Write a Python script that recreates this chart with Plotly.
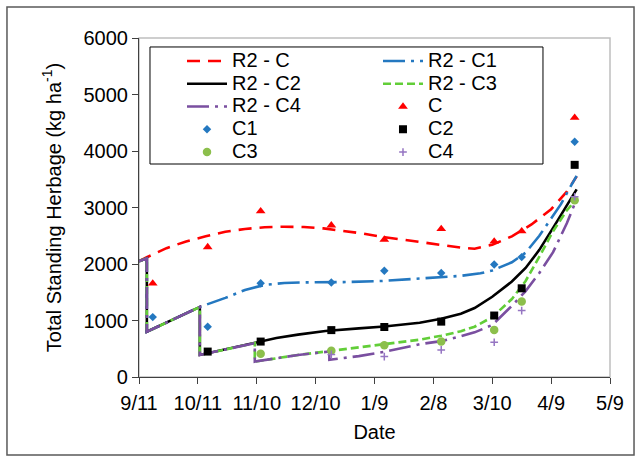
import plotly.graph_objects as go

# ---------------- data ----------------
TICK_DATES = ["2012-09-11", "2012-10-11", "2012-11-10", "2012-12-10", "2013-01-09",
              "2013-02-08", "2013-03-10", "2013-04-09", "2013-05-09"]
TICK_LABELS = ["9/11", "10/11", "11/10", "12/10", "1/9", "2/8", "3/10", "4/9", "5/9"]
Y_TICKS = [0, 1000, 2000, 3000, 4000, 5000, 6000]

# observed standing herbage (kg/ha)
SAMPLE_DATES = ["2012-09-18", "2012-10-16", "2012-11-12", "2012-12-18", "2013-01-14",
                "2013-02-12", "2013-03-11", "2013-03-25", "2013-04-21"]
C = [1655, 2300, 2935, 2685, 2432, 2620, 2400, 2580, 4590]
C1 = [1060, 890, 1660, 1672, 1882, 1840, 1990, 2122, 4165]
C2 = [None, 450, 627, 830, 885, 980, 1088, 1570, 3755]
C3 = [None, None, 410, 465, 562, 627, 834, 1337, 3130]
C4 = [None, None, None, 400, 361, 479, 615, 1175, 3190]

# regrowth model curves (R2)
R2_C_DATES = ["2012-09-11", "2012-09-15", "2012-09-25", "2012-10-05", "2012-10-15", "2012-10-25",
              "2012-11-04", "2012-11-14", "2012-11-24", "2012-12-04", "2012-12-14", "2012-12-24",
              "2013-01-03", "2013-01-13", "2013-01-23", "2013-02-02", "2013-02-12", "2013-02-22",
              "2013-03-01", "2013-03-10", "2013-03-20", "2013-03-30", "2013-04-09", "2013-04-17",
              "2013-04-22"]
R2_C = [2050, 2120, 2280, 2400, 2490, 2570, 2620, 2650, 2660, 2655, 2630, 2590, 2540, 2480,
        2430, 2380, 2330, 2290, 2270, 2340, 2490, 2700, 2970, 3280, 3550]

R2_C1_DATES = ["2012-09-11", "2012-09-15", "2012-09-15", "2012-10-12", "2012-10-25", "2012-11-04",
               "2012-11-14", "2012-11-24", "2012-12-04", "2012-12-24", "2013-01-13", "2013-02-02",
               "2013-02-22", "2013-03-04", "2013-03-10", "2013-03-20", "2013-03-27", "2013-04-03",
               "2013-04-09", "2013-04-14", "2013-04-19", "2013-04-22"]
R2_C1 = [2050, 2100, 800, 1240, 1400, 1540, 1630, 1665, 1675, 1680, 1700, 1740, 1790, 1835,
         1885, 2030, 2200, 2500, 2800, 3060, 3380, 3560]

R2_C2_DATES = ["2012-09-11", "2012-09-15", "2012-09-15", "2012-10-12", "2012-10-12", "2012-11-09",
               "2012-11-20", "2012-12-01", "2012-12-15", "2013-01-01", "2013-01-14", "2013-02-01",
               "2013-02-12", "2013-02-22", "2013-03-01", "2013-03-10", "2013-03-20", "2013-03-27",
               "2013-04-03", "2013-04-10", "2013-04-17", "2013-04-22"]
R2_C2 = [2050, 2100, 800, 1240, 390, 600, 690, 750, 815, 860, 895, 960, 1030, 1120, 1220, 1420,
         1690, 1930, 2250, 2640, 3030, 3320]

R2_C3_DATES = ["2012-09-11", "2012-09-15", "2012-09-15", "2012-10-12", "2012-10-12", "2012-11-09",
               "2012-11-09", "2012-11-20", "2012-12-01", "2012-12-15", "2013-01-01", "2013-01-14",
               "2013-02-01", "2013-02-12", "2013-02-22", "2013-03-01", "2013-03-10", "2013-03-20",
               "2013-03-27", "2013-04-03", "2013-04-10", "2013-04-17", "2013-04-22"]
R2_C3 = [2050, 2100, 800, 1240, 390, 600, 272, 330, 390, 450, 520, 585, 660, 730, 810, 890,
         1060, 1380, 1700, 2130, 2580, 2950, 3150]

R2_C4_DATES = ["2012-09-11", "2012-09-15", "2012-09-15", "2012-10-12", "2012-10-12", "2012-11-09",
               "2012-11-09", "2012-11-20", "2012-12-01", "2012-12-17", "2012-12-17", "2013-01-01",
               "2013-01-14", "2013-02-01", "2013-02-12", "2013-02-22", "2013-03-01", "2013-03-10",
               "2013-03-20", "2013-03-27", "2013-04-03", "2013-04-10", "2013-04-17", "2013-04-22"]
R2_C4 = [2050, 2100, 800, 1240, 390, 600, 272, 330, 390, 450, 305, 370, 445, 580, 635, 720, 790,
         920, 1260, 1520, 1840, 2210, 2720, 3150]

# ---------------- style ----------------
FONT = "Arial, Liberation Sans, sans-serif"
LEG_TXT = '<span style="font-size:20px">{}</span>'

RED = "#FF0000"
BLUE = "#2478C0"
GREEN_LINE = "#62CE38"
GREEN_MK = "#8CBF4C"
PURPLE = "#7A4FA0"
PURPLE_MK = "#9575C2"

fig = go.Figure()


def add_line(dates, vals, name, color, dash, legend):
    fig.add_trace(go.Scatter(x=dates, y=vals, mode="lines", name=LEG_TXT.format(name),
                             line=dict(color=color, width=2.6, dash=dash), legend=legend))


def add_pts(vals, name, symbol, color, size, legend, lw=0):
    fig.add_trace(go.Scatter(x=SAMPLE_DATES, y=vals, mode="markers", name=LEG_TXT.format(name),
                             marker=dict(symbol=symbol, color=color, size=size,
                                         line=dict(width=lw, color=color)),
                             legend=legend))


add_line(R2_C_DATES, R2_C, "R2 - C", RED, "13px,8px", "legend")
add_line(R2_C1_DATES, R2_C1, "R2 - C1", BLUE, "22px,6px,3px,6px", "legend2")
add_line(R2_C2_DATES, R2_C2, "R2 - C2", "#000000", "solid", "legend")
add_line(R2_C3_DATES, R2_C3, "R2 - C3", GREEN_LINE, "8px,4px", "legend2")
add_line(R2_C4_DATES, R2_C4, "R2 - C4", PURPLE, "22px,6px,3px,6px", "legend")
add_pts(C, "C", "triangle-up", RED, 8.5, "legend2")
add_pts(C1, "C1", "diamond", BLUE, 6.5, "legend")
add_pts(C2, "C2", "square", "#000000", 8, "legend2")
add_pts(C3, "C3", "circle", GREEN_MK, 8.5, "legend")
add_pts(C4, "C4", "cross-thin", PURPLE_MK, 5.5, "legend2", lw=1.5)

leg_common = dict(xanchor="left", yanchor="top", bgcolor="rgba(0,0,0,0)", borderwidth=0,
                  font=dict(family=FONT, size=15.2, color="black"), itemwidth=40,
                  tracegroupgap=0, orientation="v")

fig.update_layout(
    width=636, height=457,
    margin=dict(l=139, r=26, t=38, b=80),
    paper_bgcolor="white", plot_bgcolor="white",
    font=dict(family=FONT, size=20, color="black"),
    showlegend=True,
    legend=dict(x=0.0913, y=0.9805, **leg_common),
    legend2=dict(x=0.5074, y=0.9805, **leg_common),
    shapes=[
        # outer chart frame
        dict(type="rect", xref="paper", yref="paper", x0=-0.2803, x1=1.051, y0=-0.2301, y1=1.0914,
             line=dict(color="#595959", width=1.5), layer="below"),
        # plot-area border
        dict(type="rect", xref="paper", yref="paper", x0=0, x1=1, y0=0, y1=1,
             line=dict(color="#BFBFBF", width=1.5), layer="below"),
        # legend box
        dict(type="rect", xref="paper", yref="paper", x0=0.02335, x1=0.8577, y0=0.6283, y1=0.9735,
             line=dict(color="#000000", width=1), fillcolor="white", layer="above"),
    ],
)

fig.update_xaxes(
    type="date", range=[TICK_DATES[0], TICK_DATES[-1]],
    tickmode="array", tickvals=TICK_DATES, ticktext=TICK_LABELS,
    ticks="outside", ticklen=6, tickcolor="#404040", tickwidth=1,
    showline=True, linecolor="#404040", linewidth=1.2,
    showgrid=False, zeroline=False, ticklabelstandoff=2,
    tickfont=dict(family=FONT, size=20, color="black"),
    title=dict(text="Date", font=dict(family=FONT, size=20, color="black"), standoff=11),
)
fig.update_yaxes(
    range=[0, 6000], tickmode="array", tickvals=Y_TICKS,
    ticks="outside", ticklen=6, tickcolor="#404040", tickwidth=1,
    showline=True, linecolor="#404040", linewidth=1.2,
    showgrid=False, zeroline=False,
    tickfont=dict(family=FONT, size=20, color="black"),
    title=dict(text="Total Standing Herbage (kg ha<sup>-1</sup>)",
               font=dict(family=FONT, size=20, color="black"), standoff=16),
)

fig.write_html("out.html", config={"displayModeBar": False},
               post_script="document.body.style.margin='0';")
